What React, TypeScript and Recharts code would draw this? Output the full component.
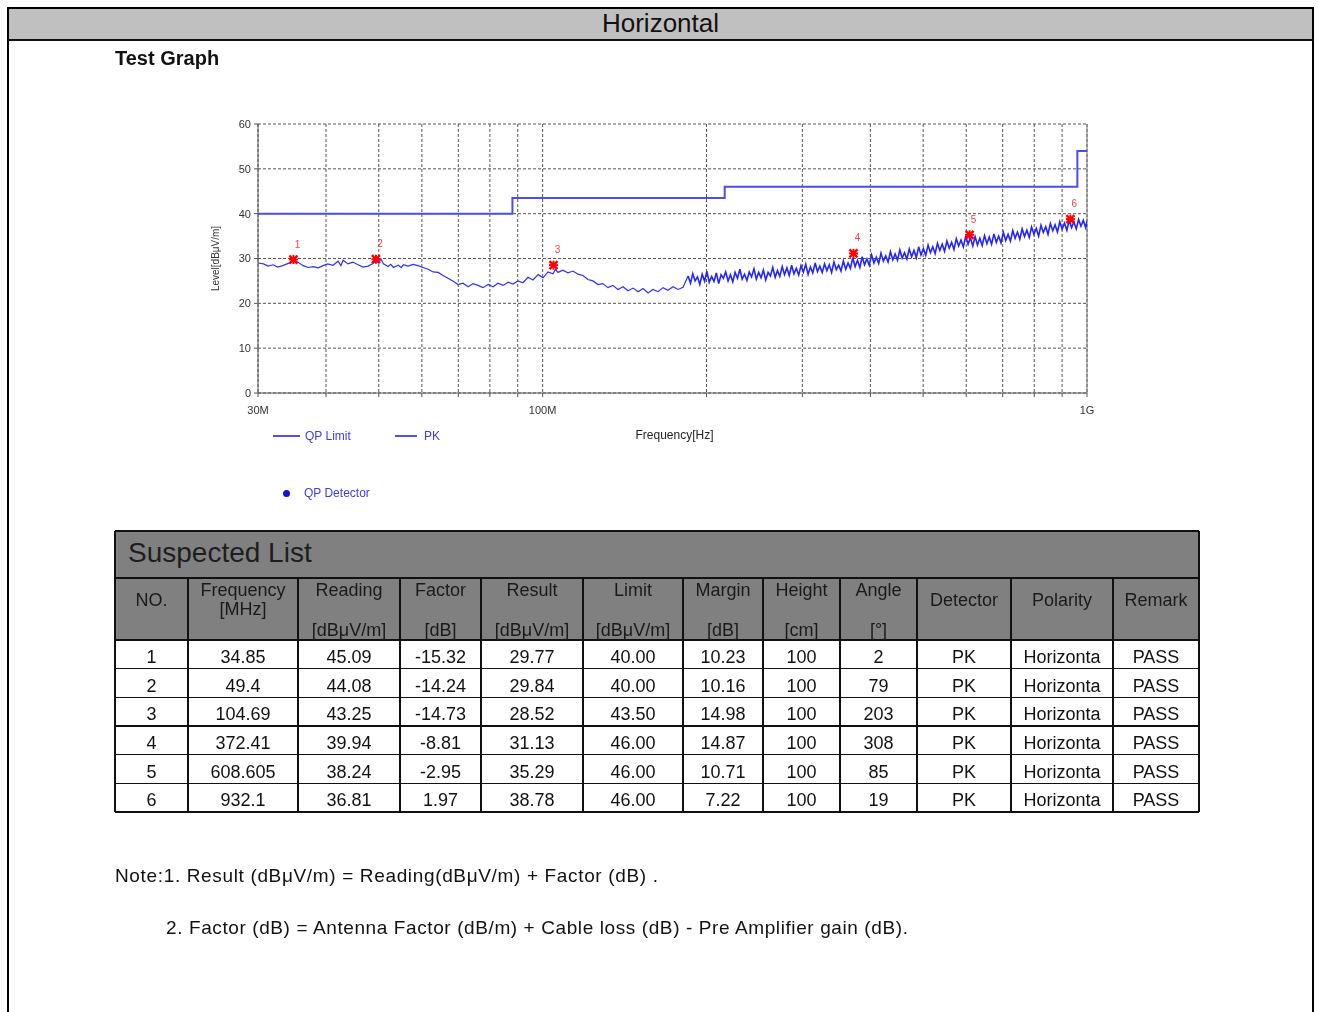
import React from 'react';
import { ComposedChart, Line, Scatter, XAxis, YAxis, CartesianGrid, ReferenceLine } from 'recharts';

// ---------- data ----------
const xTicks = [30, 40, 50, 60, 70, 80, 90, 100, 200, 300, 400, 500, 600, 700, 800, 900, 1000];
const xLabelTicks = [30, 100, 1000];
const xLabelText = ['30M', '100M', '1G'];
const yTicks = [0, 10, 20, 30, 40, 50, 60];

const limitFreq = [30, 88, 88, 216, 216, 960, 960, 1000];
const limitLevel = [40, 40, 43.5, 43.5, 46, 46, 54, 54];

// PK sweep, low band (30 - 185 MHz), [MHz, dBμV/m]
const pkLow: [number, number][] = [
  [30, 29.0], [30.7, 28.8], [31.3, 28.3], [32.0, 28.6], [32.6, 28.1], [33.3, 28.4], [34.1, 28.9], [34.85, 29.5],
  [35.5, 29.2], [36.3, 28.4], [37.1, 28.0], [37.9, 28.2], [38.7, 27.9], [39.5, 28.4], [40.3, 28.8], [41.2, 28.5],
  [42.1, 29.4], [42.6, 28.4], [43.0, 29.6], [43.9, 28.8], [44.8, 29.2], [45.8, 28.6], [46.8, 28.1], [47.8, 28.3],
  [48.8, 28.9], [49.4, 29.6], [49.9, 29.1], [50.5, 29.8], [51.0, 28.8], [52.0, 28.2], [52.6, 28.7], [53.2, 28.0],
  [54.3, 28.5], [55.0, 28.0], [55.5, 28.6], [56.6, 28.3], [57.8, 28.7], [59.0, 28.4], [60.3, 28.0], [61.6, 27.6],
  [62.9, 27.0], [64.3, 26.9], [65.6, 26.2], [67.0, 25.6], [68.4, 25.0], [69.9, 24.2], [71.4, 24.5], [73.0, 23.7],
  [74.5, 24.4], [76.1, 24.0], [77.7, 23.5], [79.4, 24.2], [81.1, 23.7], [82.8, 24.5], [84.6, 24.0], [86.4, 24.7],
  [88.2, 24.3], [90.1, 25.0], [92.0, 24.6], [94.0, 25.8], [96.0, 25.2], [98.1, 26.4], [100.2, 25.7], [102.3, 27.0],
  [104.5, 26.6], [105.6, 27.6], [106.7, 26.9], [108.9, 27.4], [111.3, 26.8], [113.7, 27.2], [116.1, 26.5], [118.6, 26.2],
  [121.1, 25.3], [123.7, 25.0], [126.4, 24.2], [129.0, 24.4], [131.8, 23.5], [134.6, 24.0], [137.5, 23.1], [140.5, 23.7],
  [143.5, 22.8], [146.6, 23.4], [149.7, 22.6], [152.9, 23.3], [156.2, 22.3], [159.5, 23.1], [162.9, 22.6], [166.4, 23.5],
  [169.9, 22.9], [173.6, 23.7], [177.3, 23.1], [181.1, 23.6], [185.0, 26.1],
];

// PK sweep, high band (185 MHz - 1 GHz), noisy
const pkHigh: [number, number][] = [
  [185.0, 26.1], [186.9, 24.5], [188.7, 26.6], [190.6, 25.0], [192.5, 25.9], [194.4, 24.2], [196.4, 26.5], [198.4, 24.9],
  [200.3, 27.2], [202.3, 24.7], [204.4, 26.0], [206.4, 24.9], [208.5, 26.8], [210.6, 24.4], [212.7, 26.4], [214.8, 25.6],
  [216.9, 27.0], [219.1, 25.0], [221.3, 26.4], [223.5, 24.8], [225.7, 26.9], [228.0, 25.6], [230.3, 27.6], [232.6, 25.4],
  [234.9, 26.5], [237.3, 25.1], [239.6, 27.0], [242.0, 25.9], [244.5, 27.7], [246.9, 25.4], [249.4, 26.9], [251.9, 25.7],
  [254.4, 27.4], [256.9, 25.2], [259.5, 26.9], [262.1, 26.1], [264.7, 28.0], [267.4, 25.8], [270.0, 27.3], [272.7, 26.0],
  [275.5, 28.2], [278.2, 26.4], [281.0, 27.9], [283.8, 26.2], [286.7, 28.5], [289.5, 26.6], [292.4, 27.8], [295.4, 26.3],
  [298.3, 28.4], [301.3, 27.0], [304.3, 28.7], [307.4, 26.5], [310.4, 28.1], [313.5, 26.8], [316.7, 29.0], [319.8, 27.1],
  [323.0, 28.3], [326.3, 26.9], [329.5, 28.8], [332.8, 27.3], [336.1, 28.6], [339.5, 26.9], [342.9, 29.2], [346.3, 27.5],
  [349.8, 28.5], [353.3, 27.2], [356.8, 29.4], [360.4, 27.6], [364.0, 29.0], [367.6, 27.8], [371.3, 30.1], [375.0, 28.2],
  [378.8, 29.6], [382.6, 28.0], [386.4, 30.4], [390.2, 28.6], [394.2, 29.9], [398.1, 28.5], [402.1, 30.8], [406.1, 29.0],
  [410.2, 30.3], [414.3, 28.9], [418.4, 31.2], [422.6, 29.4], [426.8, 30.6], [431.1, 29.2], [435.4, 31.5], [439.8, 29.7],
  [444.2, 31.0], [448.6, 29.6], [453.1, 31.9], [457.6, 30.1], [462.2, 31.3], [466.8, 29.9], [471.5, 32.1], [476.2, 30.4],
  [481.0, 31.8], [485.8, 30.2], [490.6, 32.6], [495.5, 30.8], [500.5, 32.2], [505.5, 30.7], [510.6, 33.0], [515.7, 31.3],
  [520.8, 32.6], [526.0, 31.1], [531.3, 33.4], [536.6, 31.8], [542.0, 33.2], [547.4, 31.6], [552.9, 33.9], [558.4, 32.3],
  [564.0, 33.6], [569.6, 32.0], [575.3, 34.4], [581.1, 32.8], [586.9, 34.1], [592.8, 32.6], [598.7, 35.0], [604.7, 33.2],
  [610.7, 34.6], [616.8, 32.8], [623.0, 34.9], [629.2, 33.0], [635.5, 34.5], [641.9, 32.9], [648.3, 35.1], [654.8, 33.3],
  [661.3, 34.8], [667.9, 33.2], [674.6, 35.5], [681.4, 33.6], [688.2, 35.0], [695.0, 33.5], [702.0, 35.8], [709.0, 34.0],
  [716.1, 35.4], [723.3, 33.9], [730.5, 36.2], [737.8, 34.5], [745.2, 35.9], [752.6, 34.3], [760.1, 36.6], [767.7, 34.9],
  [775.4, 36.3], [783.2, 34.7], [791.0, 37.0], [798.9, 35.4], [806.9, 36.7], [815.0, 35.0], [823.1, 37.4], [831.3, 35.8],
  [839.7, 37.1], [848.0, 35.4], [856.5, 37.8], [865.1, 36.2], [873.7, 37.5], [882.5, 35.9], [891.3, 38.2], [900.2, 36.6],
  [909.2, 37.9], [918.3, 36.3], [927.5, 38.5], [936.8, 36.9], [946.1, 38.2], [955.6, 36.6], [965.1, 38.7], [974.8, 37.2],
  [984.5, 38.5], [994.4, 36.9], [1000, 38.3],
];

// Suspected list columns
const sNo = ['1', '2', '3', '4', '5', '6'];
const sFreq = ['34.85', '49.4', '104.69', '372.41', '608.605', '932.1'];
const sReading = ['45.09', '44.08', '43.25', '39.94', '38.24', '36.81'];
const sFactor = ['-15.32', '-14.24', '-14.73', '-8.81', '-2.95', '1.97'];
const sResult = ['29.77', '29.84', '28.52', '31.13', '35.29', '38.78'];
const sLimit = ['40.00', '40.00', '43.50', '46.00', '46.00', '46.00'];
const sMargin = ['10.23', '10.16', '14.98', '14.87', '10.71', '7.22'];
const sHeight = ['100', '100', '100', '100', '100', '100'];
const sAngle = ['2', '79', '203', '308', '85', '19'];
const sDetector = ['PK', 'PK', 'PK', 'PK', 'PK', 'PK'];
const sPolarity = ['Horizonta', 'Horizonta', 'Horizonta', 'Horizonta', 'Horizonta', 'Horizonta'];
const sRemark = ['PASS', 'PASS', 'PASS', 'PASS', 'PASS', 'PASS'];

const headTop = ['NO.', 'Frequency', 'Reading', 'Factor', 'Result', 'Limit', 'Margin', 'Height', 'Angle', 'Detector', 'Polarity', 'Remark'];
const headUnit = ['', '[MHz]', '[dBμV/m]', '[dB]', '[dBμV/m]', '[dBμV/m]', '[dB]', '[cm]', '[°]', '', '', ''];

// ---------- derived ----------
const limitData = limitFreq.map((f, i) => ({ f, v: limitLevel[i] }));
const pkLowData = pkLow.map(([f, v]) => ({ f, v }));
const pkHighData = pkHigh.map(([f, v]) => ({ f, v }));
const markerData = sFreq.map((f, i) => ({ f: parseFloat(f), v: parseFloat(sResult[i]), n: sNo[i] }));
const tableCols = [sNo, sFreq, sReading, sFactor, sResult, sLimit, sMargin, sHeight, sAngle, sDetector, sPolarity, sRemark];
const colW = [73, 110, 102, 81, 102, 100, 80, 77, 77, 94, 102, 86];

const FONT = '"Liberation Sans", Arial, sans-serif';
const P = (x: number) => x - 8; // page -> root coordinates

const MarkerShape = (props: any) => {
  const { cx, cy, payload } = props;
  if (cx == null || cy == null) return null;
  const r = 4;
  return (
    <g>
      <line x1={cx - r} y1={cy - r} x2={cx + r} y2={cy + r} stroke="#ff0000" strokeWidth={2.4} />
      <line x1={cx - r} y1={cy + r} x2={cx + r} y2={cy - r} stroke="#ff0000" strokeWidth={2.4} />
      <line x1={cx} y1={cy - r - 0.5} x2={cx} y2={cy + r + 0.5} stroke="#ff0000" strokeWidth={2} />
      <line x1={cx - r - 0.5} y1={cy} x2={cx + r + 0.5} y2={cy} stroke="#ff0000" strokeWidth={2} />
      <text x={cx + 4} y={cy - 12} fontSize={10} fill="#ff4040" textAnchor="middle" fontFamily={FONT}>{payload.n}</text>
    </g>
  );
};

const xTickFmt = (v: number) => {
  const i = xLabelTicks.indexOf(v);
  return i >= 0 ? xLabelText[i] : '';
};

const Chart = () => (
  <ComposedChart width={900} height={400} margin={{ top: 14, right: 13, bottom: 87, left: 0 }}>
    <CartesianGrid stroke="#555" strokeDasharray="3 2" strokeWidth={1} />
    <XAxis
      type="number"
      dataKey="f"
      scale="log"
      domain={[30, 1000]}
      ticks={xTicks}
      interval={0}
      allowDataOverflow
      tickFormatter={xTickFmt}
      tickSize={4}
      tickMargin={9}
      height={30}
      stroke="#555"
      tick={{ fontSize: 11, fill: '#333', fontFamily: FONT }}
      label={(p: any) => {
        const vb = p.viewBox;
        return (
          <text x={vb.x + vb.width / 2 + 2} y={vb.y + 46} fontSize={12} fill="#222" textAnchor="middle" fontFamily={FONT}>
            Frequency[Hz]
          </text>
        );
      }}
    />
    <YAxis
      type="number"
      domain={[0, 60]}
      ticks={yTicks}
      interval={0}
      width={58}
      tickSize={4}
      tickMargin={3}
      stroke="#555"
      tick={{ fontSize: 11, fill: '#333', fontFamily: FONT }}
      label={(p: any) => {
        const vb = p.viewBox;
        const x = vb.x + 19;
        const y = vb.y + vb.height / 2;
        return (
          <text x={x} y={y} transform={`rotate(-90 ${x} ${y})`} fontSize={10} fill="#333" textAnchor="middle" fontFamily={FONT}>
            Level[dBμV/m]
          </text>
        );
      }}
    />
    <ReferenceLine x={1000} stroke="#777" strokeWidth={1} />
    <Line data={limitData} dataKey="v" type="linear" stroke="#4b4bf7" strokeWidth={2} dot={false} isAnimationActive={false} />
    <Line data={pkLowData} dataKey="v" type="linear" stroke="#3030ff" strokeWidth={1.2} dot={false} isAnimationActive={false} />
    <Line data={pkHighData} dataKey="v" type="linear" stroke="#2424ff" strokeWidth={1.6} dot={false} isAnimationActive={false} />
    <Scatter data={markerData} dataKey="v" shape={MarkerShape} isAnimationActive={false} />
  </ComposedChart>
);

const abs = (left: number, top: number, extra: React.CSSProperties = {}): React.CSSProperties => ({
  position: 'absolute', left: P(left), top: P(top), ...extra,
});
const fixed = (left: number, top: number, extra: React.CSSProperties = {}): React.CSSProperties => ({
  position: 'fixed', left, top, ...extra,
});

const Table = () => {
  const x0 = 115;
  const xs: number[] = [x0];
  colW.forEach((w) => xs.push(xs[xs.length - 1] + w));
  const right = xs[xs.length - 1];
  const titleTop = 531;
  const headTopY = 578;
  const dataTop = 640;
  const rowH = 28.67;
  const bottom = dataTop + rowH * 6;
  const els: React.ReactNode[] = [];
  els.push(<div key="bg" style={abs(x0, titleTop, { width: right - x0, height: dataTop - titleTop, background: '#808080' })} />);
  els.push(
    <div key="title" style={abs(x0 + 13, titleTop + 5, { fontSize: 28, color: '#1e1e1e', fontFamily: FONT, lineHeight: '34px' })}>
      Suspected List
    </div>
  );
  const hl = (y: number, k: string, t = 2) =>
    els.push(<div key={k} style={abs(x0, y - t / 2, { width: right - x0, height: t, background: '#111' })} />);
  hl(titleTop, 'ht', 2);
  hl(headTopY, 'hh', 2);
  hl(dataTop, 'hd', 2);
  for (let i = 1; i <= 6; i++) hl(dataTop + rowH * i, 'hr' + i, i === 6 ? 2 : 1.5);
  els.push(<div key="vl0" style={abs(x0 - 1, titleTop, { width: 2, height: bottom - titleTop, background: '#111' })} />);
  els.push(<div key="vlr" style={abs(right - 1, titleTop, { width: 2, height: bottom - titleTop, background: '#111' })} />);
  for (let i = 1; i < xs.length - 1; i++) {
    els.push(<div key={'vl' + i} style={abs(xs[i] - 0.75, headTopY, { width: 1.5, height: bottom - headTopY, background: '#111' })} />);
  }
  headTop.forEach((h, i) => {
    const w = colW[i];
    const cx = xs[i];
    const txt: React.CSSProperties = { width: w, textAlign: 'center', fontSize: 18, color: '#1a1a1a', fontFamily: FONT, lineHeight: '20px' };
    if (i === 1) {
      els.push(<div key={'h' + i} style={abs(cx, 580, txt)}>{h}</div>);
      els.push(<div key={'u' + i} style={abs(cx, 599, txt)}>{headUnit[i]}</div>);
    } else if (headUnit[i]) {
      els.push(<div key={'h' + i} style={abs(cx, 580, txt)}>{h}</div>);
      els.push(<div key={'u' + i} style={abs(cx, 620, txt)}>{headUnit[i]}</div>);
    } else {
      els.push(<div key={'h' + i} style={abs(cx, 590, txt)}>{h}</div>);
    }
  });
  tableCols.forEach((col, c) => {
    col.forEach((val, r) => {
      els.push(
        <div
          key={`d${c}-${r}`}
          style={abs(xs[c], dataTop + rowH * r + 3, {
            width: colW[c],
            textAlign: 'center',
            fontSize: 18,
            color: '#111',
            fontFamily: FONT,
            lineHeight: `${rowH}px`,
          })}
        >
          {val}
        </div>
      );
    });
  });
  return <>{els}</>;
};

export default function App() {
  return (
    <div style={{ position: 'relative', width: 1302, height: 996, fontFamily: FONT }}>
      <style>{`html{overflow:hidden;}`}</style>
      {/* outer frame (fixed to the viewport so it can run past the page edge) */}
      <div style={fixed(7, 7, { width: 1307, height: 1010, borderTop: '2px solid #000', borderLeft: '2px solid #000', borderRight: '2px solid #000', boxSizing: 'border-box' })} />
      <div style={fixed(9, 9, { width: 1303, height: 30, background: '#c0c0c0' })} />
      <div style={fixed(8, 39, { width: 1305, height: 2, background: '#111' })} />
      <div style={fixed(9, 8, { width: 1303, height: 31, textAlign: 'center', fontSize: 26, lineHeight: '31px', color: '#111', fontFamily: FONT })}>
        Horizontal
      </div>
      <div style={abs(115, 47, { fontSize: 20, fontWeight: 'bold', color: '#111', fontFamily: FONT, lineHeight: '22px' })}>Test Graph</div>

      {/* chart */}
      <div style={abs(200, 110, { width: 900, height: 400 })}>
        <Chart />
      </div>

      {/* legend */}
      <div style={abs(273, 435, { width: 27, height: 2, background: '#5050f0' })} />
      <div style={abs(305, 428, { fontSize: 12, color: '#3c3cf0', fontFamily: FONT, lineHeight: '16px' })}>QP Limit</div>
      <div style={abs(395, 435, { width: 22, height: 2, background: '#5050f0' })} />
      <div style={abs(424, 428, { fontSize: 12, color: '#3c3cf0', fontFamily: FONT, lineHeight: '16px' })}>PK</div>
      <div style={abs(282.5, 489.5, { width: 7, height: 7, borderRadius: 4, background: '#1010e0' })} />
      <div style={abs(304, 485, { fontSize: 12, color: '#3c3cf0', fontFamily: FONT, lineHeight: '16px' })}>QP Detector</div>

      <Table />

      {/* notes */}
      <div style={abs(115, 865, { fontSize: 19, letterSpacing: '0.65px', color: '#111', fontFamily: FONT, lineHeight: '22px', whiteSpace: 'nowrap' })}>
        Note:1. Result (dBμV/m) = Reading(dBμV/m) + Factor (dB) .
      </div>
      <div style={abs(166, 917, { fontSize: 19, letterSpacing: '0.6px', color: '#111', fontFamily: FONT, lineHeight: '22px', whiteSpace: 'nowrap' })}>
        2. Factor (dB) = Antenna Factor (dB/m) + Cable loss (dB) - Pre Amplifier gain (dB).
      </div>
    </div>
  );
}
